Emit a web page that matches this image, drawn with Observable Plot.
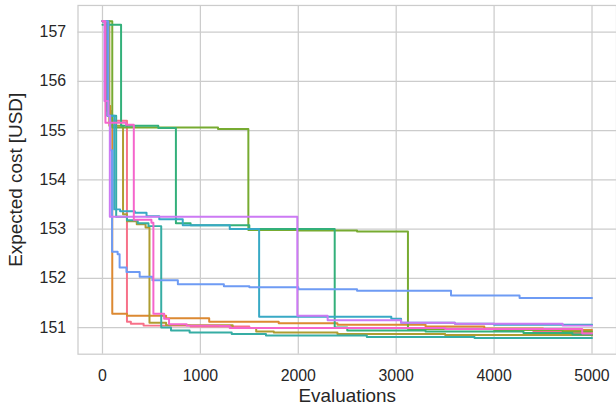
<!DOCTYPE html>
<html>
<head>
<meta charset="utf-8">
<script src="https://cdn.jsdelivr.net/npm/d3@7"></script>
<script src="https://cdn.jsdelivr.net/npm/@observablehq/plot@0.6"></script>
<style>
  html, body { margin: 0; padding: 0; background: #ffffff; overflow: hidden; }
  #chart svg { display: block; }
  #chart g[aria-label="x-axis label"] text,
  #chart g[aria-label="y-axis label"] text { font-size: 19px; }
</style>
</head>
<body>
<div id="chart"></div>
<script>
// ---- data (step-after breakpoints) ----
const runs = ["r0", "r1", "r2", "r3", "r4", "r5", "r6", "r7", "r8", "r9"];
const colors = ["#f77189", "#dc8932", "#ae9d31", "#77ab31", "#33b07a",
                "#36ada4", "#38a9c5", "#6e9bf4", "#cc7af4", "#f565cc"];

const r0x = [0, 40, 90, 250, 290, 420, 900, 1500, 3500, 4400, 4800, 5000];
const r0y = [157.22, 155.4, 155.2, 151.12, 151.08, 151.04, 151.02, 150.99, 150.97, 150.93, 150.89, 150.89];

const r1x = [0, 50, 80, 100, 250, 650, 1090, 1800, 2400, 3300, 3900, 4500, 5000];
const r1y = [157.22, 155.5, 155.25, 151.28, 151.24, 151.19, 151.12, 151.09, 151.06, 151.02, 150.98, 150.95, 150.95];

const r2x = [0, 70, 210, 250, 350, 440, 480, 650, 1330, 1570, 1750, 2400, 3500, 5000];
const r2y = [157.22, 155.1, 153.3, 153.16, 153.1, 153.03, 151.1, 151.05, 150.99, 150.92, 150.9, 150.87, 150.85, 150.84];

const r3x = [0, 100, 1180, 1490, 2000, 2600, 3120, 4000, 4700, 5000];
const r3y = [157.22, 155.06, 155.03, 152.98, 152.97, 152.95, 150.97, 150.95, 150.92, 150.92];

const r4x = [0, 190, 570, 750, 900, 1500, 2372, 2500, 3300, 4300, 4800, 5000];
const r4y = [157.15, 155.1, 155.05, 153.12, 153.08, 153.0, 151.0, 150.94, 150.92, 150.89, 150.86, 150.86];

const r5x = [0, 50, 140, 250, 360, 470, 600, 700, 890, 1320, 1670, 2700, 3800, 5000];
const r5y = [157.22, 155.3, 153.25, 153.18, 153.12, 153.06, 151.0, 150.94, 150.9, 150.87, 150.84, 150.81, 150.79, 150.79];

const r6x = [0, 50, 120, 180, 330, 450, 580, 820, 1300, 1600, 2950, 3050, 3600, 4000, 5000];
const r6y = [157.22, 155.3, 153.4, 153.36, 153.33, 153.26, 153.2, 153.08, 153.0, 151.22, 151.18, 151.1, 151.08, 151.06, 151.06];

const r7x = [0, 60, 80, 98, 155, 175, 245, 380, 510, 770, 1240, 1500, 2000, 2600, 3560, 4260, 5000];
const r7y = [157.22, 155.3, 154.6, 152.54, 152.49, 152.22, 152.13, 152.03, 151.96, 151.88, 151.84, 151.82, 151.78, 151.75, 151.65, 151.6, 151.6];

const r8x = [0, 20, 60, 75, 1990, 2300, 3050, 3600, 4700, 5000];
const r8y = [157.22, 155.6, 155.3, 153.25, 151.24, 151.15, 151.1, 151.08, 151.04, 151.04];

const r9x = [0, 30, 240, 320, 500, 520, 630, 680, 860, 1200, 1300, 3500, 4900, 5000];
const r9y = [157.22, 155.16, 155.12, 153.19, 153.13, 151.28, 151.18, 151.07, 151.04, 151.03, 150.99, 150.97, 150.88, 150.88];

const xTicks = [0, 1000, 2000, 3000, 4000, 5000];
const yTicks = [151, 152, 153, 154, 155, 156, 157];

const seriesX = [r0x, r1x, r2x, r3x, r4x, r5x, r6x, r7x, r8x, r9x];
const seriesY = [r0y, r1y, r2y, r3y, r4y, r5y, r6y, r7y, r8y, r9y];

const rows = [];
runs.forEach((run, i) => {
  seriesX[i].forEach((x, j) => rows.push({run, x, y: seriesY[i][j]}));
});

const grey = "#cccccc";
const ink = "#262626";
const fmt = d3.format("d");

const chart = Plot.plot({
  width: 620,
  height: 415,
  marginLeft: 78,
  marginRight: 0,
  marginTop: 5,
  marginBottom: 59,
  style: {fontFamily: "'Liberation Sans', Arial, sans-serif", fontSize: "16px", color: ink, background: "#ffffff"},
  x: {domain: [-250, 5250]},
  y: {domain: [150.46, 157.54]},
  color: {domain: runs, range: colors},
  marks: [
    Plot.gridX(xTicks, {stroke: grey, strokeOpacity: 1, strokeWidth: 1.25}),
    Plot.gridY(yTicks, {stroke: grey, strokeOpacity: 1, strokeWidth: 1.25}),
    Plot.line(rows, {x: "x", y: "y", z: "run", stroke: "run", curve: "step-after", strokeWidth: 2, strokeLinecap: "round"}),
    Plot.frame({stroke: grey, strokeWidth: 1.25}),
    Plot.axisX(xTicks, {tickSize: 0, tickPadding: 16, tickFormat: fmt, label: "Evaluations", labelAnchor: "center", labelArrow: "none", labelOffset: 48, fill: ink}),
    Plot.axisY(yTicks, {tickSize: 0, tickPadding: 12, tickFormat: fmt, label: "Expected cost [USD]", labelAnchor: "center", labelArrow: "none", labelOffset: 70, fill: ink})
  ]
});
document.getElementById("chart").appendChild(chart);
</script>
</body>
</html>
